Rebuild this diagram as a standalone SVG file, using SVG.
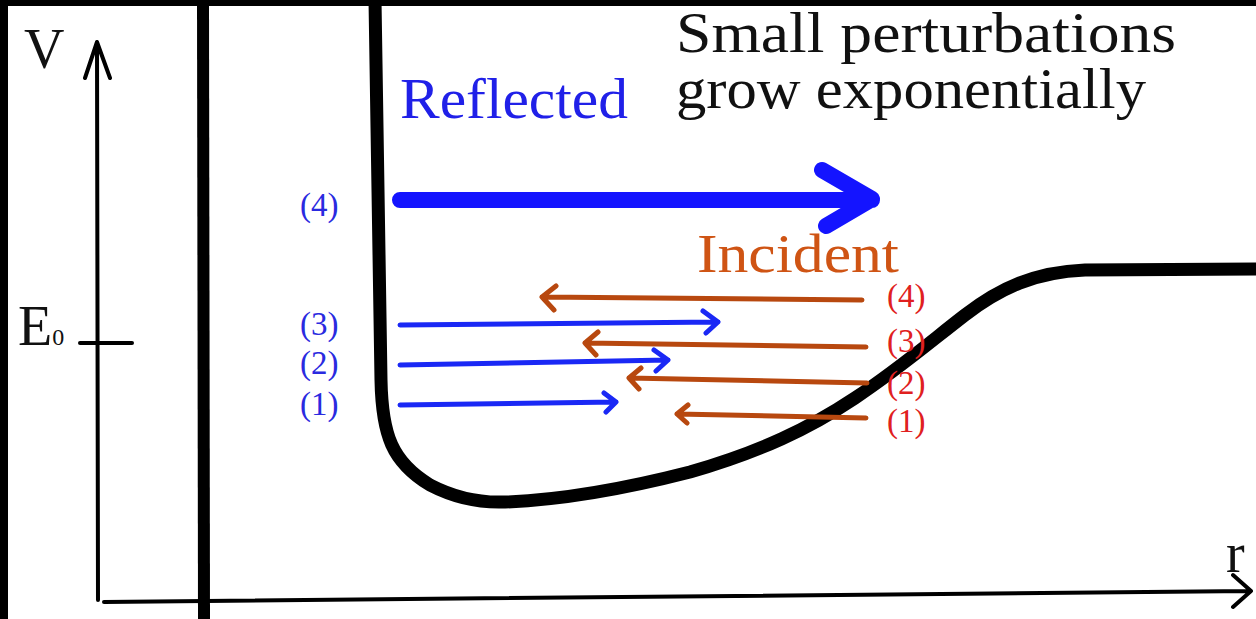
<svg xmlns="http://www.w3.org/2000/svg" width="1256" height="619" viewBox="0 0 1256 619">
<style>
.ax{fill:none;stroke:#000;stroke-width:4;stroke-linecap:round;stroke-linejoin:round}
.pot{fill:none;stroke:#000;stroke-width:13;stroke-linecap:round;stroke-linejoin:round}
.bl{fill:none;stroke:#1a28f5;stroke-width:5;stroke-linecap:round;stroke-linejoin:round}
.blk{fill:none;stroke:#1414ff;stroke-width:16;stroke-linecap:round;stroke-linejoin:round}
.or{fill:none;stroke:#b8480f;stroke-width:5;stroke-linecap:round;stroke-linejoin:round}
text{font-family:"Liberation Serif","DejaVu Serif",serif}
.big{font-size:56px;fill:#111}
.blt{fill:#2020e8}
.ort{fill:#cf5414}
.rdt{fill:#e02020;font-size:33px}
.bln{fill:#2a2ae0;font-size:33px}
</style>
<rect x="0" y="0" width="1256" height="619" fill="#fff"/>
<rect x="0" y="0" width="1256" height="6" fill="#000"/>
<rect x="0" y="0" width="8" height="619" fill="#000"/>
<g id="axes">
<path class="ax" d="M98,600 L97,42 M85,78 L97,42 L110,78"/>
<path class="ax" d="M104,602 L1250,591 M1233,575 L1251,591 L1233,607"/>
<path class="ax" d="M80,343 L132,343"/>
<path fill="none" stroke="#000" stroke-width="12" d="M203,0 L204,619"/>
</g>
<g id="labels-axes">
<text class="big" x="24" y="68" font-size="58">V</text>
<text class="big" x="1226" y="572" font-size="54">r</text>
<text class="big" x="18" y="345" font-size="50">E<tspan font-size="24">0</tspan></text>
</g>
<g id="potential">
<path class="pot" d="M375,0 C378,150 380,300 381,380 C382,435 392,462 430,485 C455,498 480,503 505,502 C560,500 620,490 690,472 C760,452 810,428 855,398 C900,368 930,342 965,315 C1000,288 1035,272 1085,270 L1256,269"/>
</g>
<g id="titles">
<text class="big" x="676" y="52" textLength="500" lengthAdjust="spacingAndGlyphs">Small perturbations</text>
<text class="big" x="676" y="108" textLength="470" lengthAdjust="spacingAndGlyphs">grow exponentially</text>
<text class="blt" x="400" y="118" font-size="56" textLength="228" lengthAdjust="spacingAndGlyphs">Reflected</text>
<text class="ort" x="697" y="272" font-size="54" textLength="202" lengthAdjust="spacingAndGlyphs">Incident</text>
</g>
<g id="reflected">
<path class="blk" d="M400,200 L872,200 M822,170 L872,199 L826,226"/>
<path class="bl" d="M400,325 L718,322 M703,311 L718,322 L706,333"/>
<path class="bl" d="M400,365 L668,360 M654,350 L668,360 L656,371"/>
<path class="bl" d="M400,405 L616,402 M604,393 L616,402 L606,412"/>
</g>
<g id="incident">
<path class="or" d="M862,300 L542,297 M556,286 L542,297 L554,310"/>
<path class="or" d="M866,347 L585,343 M598,332 L585,343 L596,355"/>
<path class="or" d="M867,383 L629,378 M641,368 L629,378 L639,389"/>
<path class="or" d="M866,418 L677,414 M688,405 L677,414 L687,423"/>
</g>
<g id="labels-numbers">
<text class="bln" x="300" y="216">(4)</text>
<text class="bln" x="300" y="335">(3)</text>
<text class="bln" x="300" y="374">(2)</text>
<text class="bln" x="300" y="415">(1)</text>
<text class="rdt" x="887" y="307">(4)</text>
<text class="rdt" x="887" y="352">(3)</text>
<text class="rdt" x="887" y="394">(2)</text>
<text class="rdt" x="887" y="432">(1)</text>
</g>
</svg>
